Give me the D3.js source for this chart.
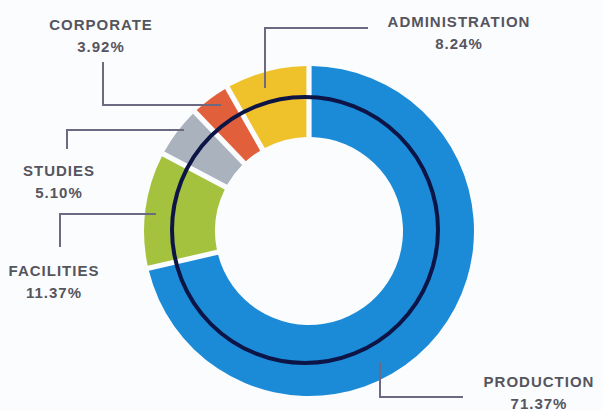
<!DOCTYPE html>
<html>
<head>
<meta charset="utf-8">
<script src="https://cdn.jsdelivr.net/npm/d3@7"></script>
<style>
  html, body { margin: 0; padding: 0; background: #fbfcfd; }
  svg { display: block; }
  .lbl { font-family: "Liberation Sans", Arial, sans-serif; font-size: 15px; font-weight: bold; fill: #55555e; letter-spacing: 1px; }
</style>
</head>
<body>
<svg></svg>
<script>
const width = 602;
const height = 410;

// data
const categories = ['PRODUCTION', 'FACILITIES', 'STUDIES', 'CORPORATE', 'ADMINISTRATION'];
const shares = [71.37, 11.37, 5.10, 3.92, 8.24];
const colors = ['#1b8bd8', '#a5c23f', '#a9b2bd', '#e1603b', '#efc22c'];

// label layout: text centre + leader polyline
const labelLayout = {
    'PRODUCTION':     { x: 539, y: 387, line: [[380, 362], [380, 397], [463, 397]] },
    'FACILITIES':     { x: 54,  y: 276, line: [[156, 214], [60, 214], [60, 247]] },
    'STUDIES':        { x: 59,  y: 176, line: [[184, 130], [67, 130], [67, 149]] },
    'CORPORATE':      { x: 101, y: 30,  line: [[221, 105], [103, 105], [103, 62]] },
    'ADMINISTRATION': { x: 459, y: 27,  line: [[368, 28], [265, 28], [265, 88]] }
};

const cx = 309, cy = 231;
const rInner = 94, rOuter = 165;

const svg = d3.select('svg')
    .attr('width', width)
    .attr('height', height);

const data = categories.map((c, i) => ({ name: c, value: shares[i], color: colors[i] }));

const pie = d3.pie().sort(null).value(d => d.value);
const arcs = pie(data);

const g = svg.append('g').attr('transform', `translate(${cx},${cy})`);

const arc = d3.arc().innerRadius(rInner).outerRadius(rOuter).padAngle(0.04).padRadius(130);

g.selectAll('path.seg')
    .data(arcs)
    .enter().append('path')
    .attr('class', 'seg')
    .attr('d', arc)
    .attr('fill', d => d.data.color);

// dark ring, sits a touch left of the donut centre
g.append('circle')
    .attr('cx', -4)
    .attr('cy', -1)
    .attr('r', 133)
    .attr('fill', 'none')
    .attr('stroke', '#0d1547')
    .attr('stroke-width', 4);

// leaders + labels
const line = d3.line();
arcs.forEach(a => {
    const lay = labelLayout[a.data.name];
    svg.append('path')
        .attr('d', line(lay.line))
        .attr('fill', 'none')
        .attr('stroke', '#6b6a82')
        .attr('stroke-width', 2);
    const t = svg.append('text')
        .attr('class', 'lbl')
        .attr('text-anchor', 'middle')
        .attr('x', lay.x)
        .attr('y', lay.y);
    t.append('tspan').attr('x', lay.x).text(a.data.name);
    t.append('tspan').attr('x', lay.x).attr('dy', 22).text(a.data.value.toFixed(2) + '%');
});
</script>
</body>
</html>
